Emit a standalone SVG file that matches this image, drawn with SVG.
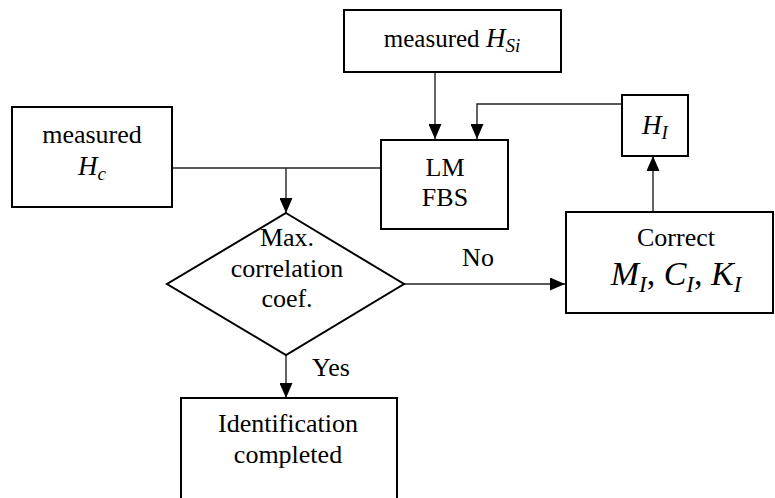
<svg xmlns="http://www.w3.org/2000/svg" width="775" height="498" viewBox="0 0 775 498">
<defs>
<marker id="ah" markerWidth="15" markerHeight="13" refX="15" refY="6.5" orient="auto" markerUnits="userSpaceOnUse" viewBox="0 0 15 13">
<path d="M0,0 L15,6.5 L0,13 Z" fill="#000"/>
</marker>
</defs>
<style>
.box{fill:#fff;stroke:#000;stroke-width:2}
.ln{fill:none;stroke:#222;stroke-width:1.4}
text{font-family:"Liberation Serif","Times New Roman",serif;font-size:26px;fill:#000;text-anchor:middle}
.m{font-style:italic}
</style>
<rect width="775" height="498" fill="#fff"/>
<g id="connectors">
<path class="ln" d="M435,72 V139" marker-end="url(#ah)"/>
<path class="ln" d="M622,104 H477 V139" marker-end="url(#ah)"/>
<path class="ln" d="M172,168 H381"/>
<path class="ln" d="M286,168 V213" marker-end="url(#ah)"/>
<path class="ln" d="M404,284 H565" marker-end="url(#ah)"/>
<path class="ln" d="M653,212 V156" marker-end="url(#ah)"/>
<path class="ln" d="M286,355 V398" marker-end="url(#ah)"/>
<text x="478" y="266">No</text>
<text x="331" y="376">Yes</text>
</g>
<g id="measured-hsi">
<rect class="box" x="344" y="10" width="217" height="62"/>
<text x="452" y="47"><tspan font-size="25">measured </tspan><tspan class="m" font-size="27">H</tspan><tspan class="m" font-size="19" dy="5">Si</tspan></text>
</g>
<g id="measured-hc">
<rect class="box" x="12" y="107" width="160" height="100"/>
<text x="92" y="143" font-size="25">measured</text>
<text x="92" y="175"><tspan class="m" font-size="27">H</tspan><tspan class="m" font-size="19" dy="5">c</tspan></text>
</g>
<g id="lm-fbs">
<rect class="box" x="381" y="140" width="127" height="89"/>
<text x="445" y="176">LM</text>
<text x="445" y="206">FBS</text>
</g>
<g id="hi">
<rect class="box" x="622" y="95" width="66" height="61"/>
<text x="655" y="134"><tspan class="m" font-size="27">H</tspan><tspan class="m" font-size="19" dy="5">I</tspan></text>
</g>
<g id="correct">
<rect class="box" x="566" y="212" width="207" height="101"/>
<text x="676" y="246">Correct</text>
<text x="676" y="285"><tspan class="m" font-size="34">M</tspan><tspan class="m" font-size="23" dy="7">I</tspan><tspan font-size="34" dy="-7">, </tspan><tspan class="m" font-size="34">C</tspan><tspan class="m" font-size="23" dy="7">I</tspan><tspan font-size="34" dy="-7">, </tspan><tspan class="m" font-size="34">K</tspan><tspan class="m" font-size="23" dy="7">I</tspan></text>
</g>
<g id="decision">
<path class="box" d="M286,213 L404,284 L286,355 L167,284 Z"/>
<text x="287" y="246">Max.</text>
<text x="287" y="277">correlation</text>
<text x="287" y="307">coef.</text>
</g>
<g id="identification">
<rect class="box" x="181" y="398" width="216" height="110"/>
<text x="288" y="432">Identification</text>
<text x="288" y="463">completed</text>
</g>
</svg>
